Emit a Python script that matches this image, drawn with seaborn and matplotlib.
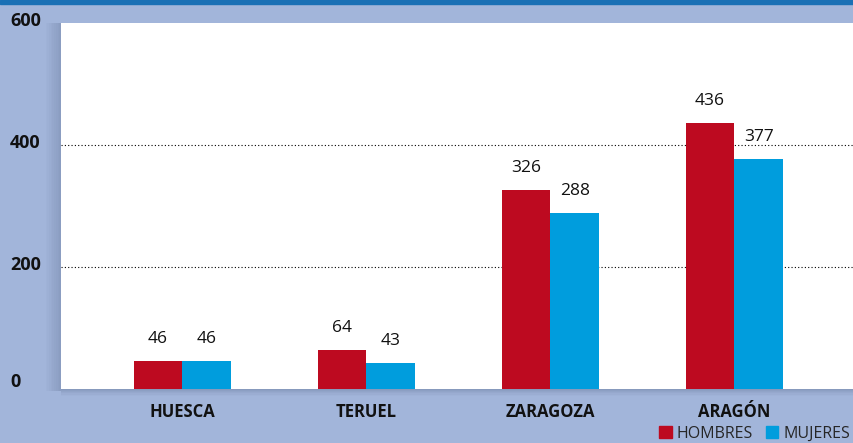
import numpy as np
import pandas as pd
import matplotlib
matplotlib.use("Agg")
import matplotlib.pyplot as plt
import matplotlib.patches as mpatches
import seaborn as sns

# datos
provincias = ["HUESCA", "TERUEL", "ZARAGOZA", "ARAGÓN"]
hombres = [46, 64, 326, 436]
mujeres = [46, 43, 288, 377]
series = ["HOMBRES", "MUJERES"]
y_ticks = [0, 200, 400, 600]

COLORES = {"HOMBRES": "#bd0a20", "MUJERES": "#009ddd"}
FONDO = "#a2b5da"

df = pd.DataFrame({
    "provincia": provincias * 2,
    "sexo": [series[0]] * len(provincias) + [series[1]] * len(provincias),
    "valor": hombres + mujeres,
})

sns.set_style("white")
plt.rcParams["font.family"] = ["Open Sans", "DejaVu Sans"]

fig = plt.figure(figsize=(8.54, 4.43), dpi=100, facecolor=FONDO)
# franja superior
fig.patches.append(mpatches.Rectangle((0, 0.991), 1, 0.009, transform=fig.transFigure,
                                      color="#1a70b5", zorder=0))
# sombra a la izquierda del panel
for i, a in enumerate(np.linspace(0.22, 0.02, 9)):
    fig.patches.append(mpatches.Rectangle((0.0714 - 0.002 * (i + 1), 0.118), 0.002, 0.83,
                                          transform=fig.transFigure, color="#3a4a6a",
                                          alpha=a, lw=0, zorder=0))
# sombra bajo el panel
for i, a in enumerate(np.linspace(0.25, 0.02, 6)):
    fig.patches.append(mpatches.Rectangle((0.0714, 0.1219 - 0.0025 * (i + 1)), 0.93, 0.0025,
                                          transform=fig.transFigure, color="#3a4a6a",
                                          alpha=a, lw=0, zorder=0))

ax = fig.add_axes([0.0714, 0.1219, 0.9286, 0.8262])
ax.set_facecolor("white")

sns.barplot(data=df, x="provincia", y="valor", hue="sexo", palette=COLORES,
            width=0.53, saturation=1, ax=ax, legend=False, edgecolor="none")

for cont in ax.containers:
    ax.bar_label(cont, padding=10, fontsize=12.5, color="#111111")

ax.set_ylim(0, 600)
ax.set_xlim(-0.66, 3.65)
ax.set_yticks(y_ticks)
ax.set_yticklabels([])
ax.tick_params(axis="y", length=0)
for t in y_ticks:
    off = 12 if t == 0 else 3
    ax.text(-0.064, t + off, str(t), transform=ax.get_yaxis_transform(), ha="left",
            va="center", fontsize=13, fontweight="bold", color="#111111", clip_on=False)
ax.tick_params(axis="x", length=0, pad=10, labelsize=12)
for lab in ax.get_xticklabels():
    lab.set_fontweight("bold")
    lab.set_color("#111111")

for y in [200, 400]:
    ax.axhline(y, color="black", lw=0.8, ls=(0, (1, 2)), zorder=0)

ax.set_xlabel("")
ax.set_ylabel("")
for s in ax.spines.values():
    s.set_visible(False)

handles = [mpatches.Patch(color=COLORES[s], label=s) for s in series]
fig.legend(handles=handles, loc="lower right", bbox_to_anchor=(1.012, -0.03), ncol=2,
           frameon=False, fontsize=11.5, handlelength=0.8, handleheight=0.8,
           handletextpad=0.3, columnspacing=0.8)

plt.savefig("out.png", dpi=100, facecolor=FONDO)
